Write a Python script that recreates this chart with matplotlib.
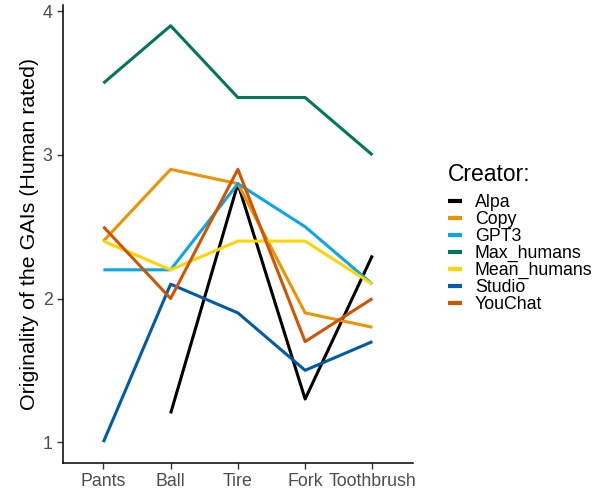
import matplotlib.pyplot as plt
import numpy as np

plt.rcParams["font.family"] = ["Liberation Sans", "DejaVu Sans"]

objects = ["Pants", "Ball", "Tire", "Fork", "Toothbrush"]
creators = ["Alpa", "Copy", "GPT3", "Max_humans", "Mean_humans", "Studio", "YouChat"]

# ratings per creator, one value per object (nan = missing)
alpa = [np.nan, 1.2, 2.8, 1.3, 2.3]
copy = [2.4, 2.9, 2.8, 1.9, 1.8]
gpt3 = [2.2, 2.2, 2.8, 2.5, 2.1]
max_humans = [3.5, 3.9, 3.4, 3.4, 3.0]
mean_humans = [2.4, 2.2, 2.4, 2.4, 2.1]
studio = [1.0, 2.1, 1.9, 1.5, 1.7]
youchat = [2.5, 2.0, 2.9, 1.7, 2.0]

series = [alpa, copy, gpt3, max_humans, mean_humans, studio, youchat]
colors = ["#000000", "#EE9300", "#0AA6E8", "#00775A", "#FFD500", "#005BAA", "#D35400"]

fig = plt.figure(figsize=(6.03, 4.93), dpi=100)
ax = fig.add_axes([0.1045, 0.061, 0.58, 0.929])

x = np.arange(len(objects))
for name, vals, col in zip(creators, series, colors):
    ax.plot(x, vals, color=col, lw=2.2, label=name, solid_capstyle="butt")

ax.set_xlim(-0.6, 4.6)
ax.set_ylim(0.855, 4.045)
ax.set_xticks(x)
ax.set_xticklabels(objects)
ax.set_yticks([1, 2, 3, 4])
ax.tick_params(labelsize=12.8, labelcolor="#4D4D4D", color="#333333", length=4, width=1)
for s in ["top", "right"]:
    ax.spines[s].set_visible(False)
for s in ["left", "bottom"]:
    ax.spines[s].set_linewidth(1.1)
ax.set_ylabel("Originality of the GAIs (Human rated)", fontsize=15.4, labelpad=3)

leg = ax.legend(title="Creator:", loc="upper left", bbox_to_anchor=(1.081, 0.671),
                frameon=False, fontsize=12.8, title_fontsize=16.5,
                handlelength=0.8, handletextpad=0.7, labelspacing=0.0,
                borderaxespad=0)
leg._legend_box.align = "left"
leg._legend_box.sep = 6
for h in leg.get_lines():
    h.set_linewidth(3)

fig.savefig("out.png", dpi=100)
